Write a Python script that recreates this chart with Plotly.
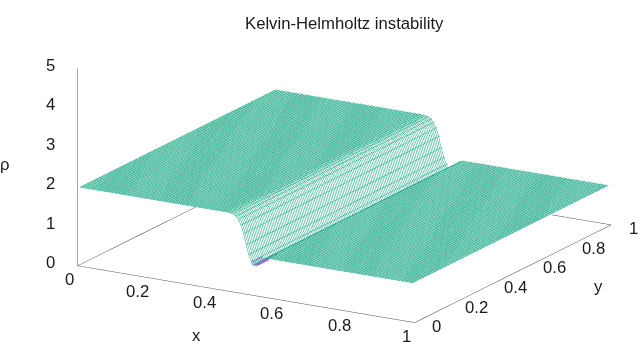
import numpy as np
import plotly.graph_objects as go

x_vals = [0.005,0.1,0.2,0.3,0.4,0.44,0.455,0.465,0.473,0.48,0.49,0.50,0.51,0.52,0.53,0.54,0.55,0.56,0.6,0.7,0.8,0.9,1.0]
rho_vals = [2,2,2,2,2,2,1.99,1.96,1.9,1.82,1.6,1.25,0.95,0.78,0.78,0.87,0.95,1,1,1,1,1,1]
y_vals = [0.0,0.25,0.5,0.75,1.0]
x_under = [0.515,0.52,0.53,0.54,0.55,0.56]
rho_under = [0.84,0.76,0.75,0.84,0.92,0.97]
y_under = [-0.01,0.03,0.06]
x_ticks = [0,0.2,0.4,0.6,0.8,1]
y_ticks = [0,0.2,0.4,0.6,0.8,1]
z_ticks = [0,1,2,3,4,5]
title = "Kelvin-Helmholtz instability"
font = "Liberation Sans"
fs = 16.7
txt = "#1a1a1a"
grid_step = 1/128

z = np.tile(np.array(rho_vals),(len(y_vals),1))
zu = np.tile(np.array(rho_under),(len(y_under),1))

def surf(xx,yy,zz,col):
    c=dict(show=True,start=-1.0,end=1.0,size=grid_step,color=col,width=1,highlight=False)
    return go.Surface(x=xx,y=yy,z=zz,surfacecolor=np.zeros_like(zz),colorscale=[[0,"white"],[1,"white"]],
        showscale=False,hoverinfo="skip",
        lighting=dict(ambient=1,diffuse=0,specular=0,roughness=1,fresnel=0),
        contours=dict(x=c,y=c,z=dict(show=False,highlight=False)))

fig=go.Figure()
fig.add_trace(surf(x_under,y_under,zu,"#b060e8"))
fig.add_trace(surf(x_vals,y_vals,z,"#1aa884"))
fx=[0,1,1,0,0]; fy=[0,0,1,1,0]
fig.add_trace(go.Scatter3d(x=fx,y=fy,z=[0]*5,mode="lines",line=dict(color="#505050",width=1),hoverinfo="skip",showlegend=False))
fig.add_trace(go.Scatter3d(x=[0,0],y=[0,0],z=[0,5],mode="lines",line=dict(color="#505050",width=1),hoverinfo="skip",showlegend=False))

ux=np.array([338.,57.]); uy=np.array([197.,-98.]); uz=39.6
ax=1.0; ay=np.sqrt(uy[0]*(-uy[1])/(ux[0]*ux[1]))
s2=(ux[0]**2+uy[0]**2/ay**2)
az=uz/np.sqrt(s2-ux[1]**2-uy[1]**2/ay**2)
s=np.sqrt(s2)
r1=np.array([ux[0]/ax,uy[0]/ay,0])/s
r2=np.array([-ux[1]/ax,-uy[1]/ay,uz/az])/s
n=np.cross(r1,r2); n/=np.linalg.norm(n)
k=2.167
px_per_unit=s/k
d=2.0
center=(-24.5/px_per_unit)*r1+(-33.5/px_per_unit)*r2
eye=center+d*n

def lab(**kw):
    return dict(showarrow=False,xanchor="center",yanchor="middle",font=dict(family=font,size=fs,color=txt),**kw)
ann=[]
for t in x_ticks:
    ann.append(lab(x=t,y=0,z=0,text=f"{t:g}",xshift=-8,yshift=-14))
for t in y_ticks:
    ann.append(lab(x=1,y=t,z=0,text=f"{t:g}",xshift=22,yshift=-4))
for t in z_ticks:
    ann.append(lab(x=0,y=0,z=t,text=f"{t:g}",xshift=-27,yshift=3))

def plab(text,px,py):
    return lab(text=text,x=px/640,y=1-py/360,xref="paper",yref="paper")
noax=dict(visible=False,showbackground=False,showgrid=False,zeroline=False,showticklabels=False,showspikes=False)
fig.update_layout(width=640,height=360,margin=dict(l=0,r=0,t=0,b=0),paper_bgcolor="white",showlegend=False,
  scene=dict(domain=dict(x=[0,1],y=[0,1]),
    xaxis=dict(noax,range=[0,1]),yaxis=dict(noax,range=[0,1]),zaxis=dict(noax,range=[0,5]),
    aspectmode="manual",aspectratio=dict(x=ax*k,y=ay*k,z=az*5*k),
    camera=dict(projection=dict(type="orthographic"),up=dict(x=0,y=0,z=1),
       center=dict(x=center[0],y=center[1],z=center[2]),eye=dict(x=eye[0],y=eye[1],z=eye[2])),
    annotations=ann),
  annotations=[plab(title,344,23),plab("x",196,335),plab("y",598,286),plab("ρ",5,165)])
fig.write_html("out.html",config=dict(displayModeBar=False),
   post_script="document.body.style.margin='0';document.body.style.overflow='hidden';")
